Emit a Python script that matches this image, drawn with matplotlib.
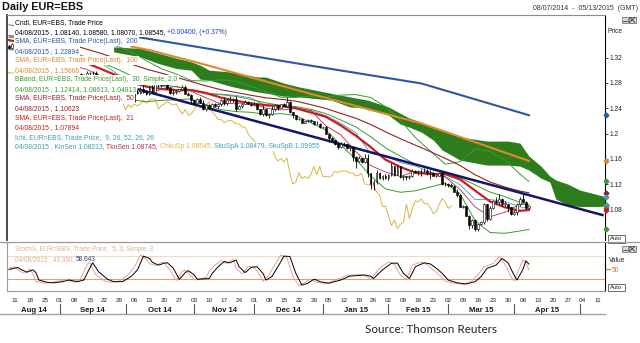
import matplotlib
matplotlib.use("Agg")
import matplotlib.pyplot as plt
import matplotlib.transforms as mtransforms
from matplotlib.lines import Line2D
from matplotlib.patches import Rectangle
import numpy as np
import pandas as pd

plt.rcParams["font.family"] = ["Liberation Sans", "DejaVu Sans"]

W, H = 640, 343


def fx(px):
    return px / W


def fy(py):
    return 1 - py / H


# trading-day calendar, index 0 = 7 Aug 2014; runs on past the last bar for the cloud
days = pd.bdate_range("2014-08-07", "2015-05-13")

# ---- daily EUR=EBS bars (open = previous close) ----
open_first = 1.3390
open_last = 1.08140
close = [
    1.3360, 1.3410,
    1.3375, 1.3365, 1.3365, 1.3360, 1.3400,
    1.3365, 1.3315, 1.3265, 1.3280, 1.3240,
    1.3195, 1.3170, 1.3190, 1.3180, 1.3130,
    1.3130, 1.3130, 1.3150, 1.2945, 1.2950,
    1.2890, 1.2945, 1.2920, 1.2925, 1.2965,
    1.2955, 1.2960, 1.2860, 1.2920, 1.2830,
    1.2850, 1.2850, 1.2770, 1.2745, 1.2685,
    1.2685, 1.2630, 1.2620, 1.2670, 1.2520,
    1.2660, 1.2645, 1.2710, 1.2650, 1.2630,
    1.2735, 1.2650, 1.2815, 1.2810, 1.2760,
    1.2800, 1.2715, 1.2645, 1.2650, 1.2670,
    1.2700, 1.2735, 1.2630, 1.2610, 1.2525,
    1.2480, 1.2545, 1.2490, 1.2380, 1.2455,
    1.2410, 1.2470, 1.2435, 1.2470, 1.2525,
    1.2480, 1.2535, 1.2545, 1.2545, 1.2390,
    1.2440, 1.2470, 1.2505, 1.2470, 1.2450,
    1.2470, 1.2380, 1.2310, 1.2380, 1.2290,
    1.2310, 1.2380, 1.2450, 1.2410, 1.2465,
    1.2440, 1.2505, 1.2340, 1.2290, 1.2225,
    1.2225, 1.2170, 1.2195, 1.2210, 1.2190,
    1.2150, 1.2155, 1.2100, 1.2100, 1.2000,
    1.1935, 1.1890, 1.1835, 1.1790, 1.1840,
    1.1830, 1.1775, 1.1780, 1.1630, 1.1565,
    1.1605, 1.1550, 1.1610, 1.1370, 1.1200,
    1.1235, 1.1380, 1.1290, 1.1320, 1.1290,
    1.1345, 1.1480, 1.1345, 1.1480, 1.1315,
    1.1320, 1.1310, 1.1330, 1.1400, 1.1385,
    1.1400, 1.1410, 1.1405, 1.1375, 1.1380,
    1.1330, 1.1335, 1.1370, 1.1200, 1.1195,
    1.1180, 1.1175, 1.1075, 1.1030, 1.0845,
    1.0850, 1.0700, 1.0545, 1.0630, 1.0495,
    1.0565, 1.0595, 1.0880, 1.0655, 1.0820,
    1.0935, 1.0920, 1.0965, 1.0890, 1.0890,
    1.0830, 1.0730, 1.0760, 1.0885, 1.0970,
    1.0920, 1.08145, 1.08545,
]
high = [
    1.3400, 1.3430,
    1.3420, 1.3400, 1.3390, 1.3395, 1.3445,
    1.3410, 1.3385, 1.3335, 1.3310, 1.3300,
    1.3250, 1.3205, 1.3200, 1.3210, 1.3200,
    1.3145, 1.3140, 1.3170, 1.3170, 1.2995,
    1.2960, 1.2955, 1.2950, 1.2945, 1.2990,
    1.2980, 1.2990, 1.2995, 1.2925, 1.2935,
    1.2880, 1.2865, 1.2860, 1.2785, 1.2755,
    1.2705, 1.2695, 1.2640, 1.2705, 1.2680,
    1.2665, 1.2685, 1.2730, 1.2790, 1.2680,
    1.2745, 1.2760, 1.2885, 1.2845, 1.2815,
    1.2810, 1.2845, 1.2735, 1.2685, 1.2690,
    1.2710, 1.2765, 1.2760, 1.2650, 1.2630,
    1.2535, 1.2560, 1.2570, 1.2535, 1.2470,
    1.2465, 1.2490, 1.2480, 1.2490, 1.2545,
    1.2580, 1.2545, 1.2600, 1.2555, 1.2595,
    1.2455, 1.2490, 1.2530, 1.2510, 1.2500,
    1.2500, 1.2475, 1.2390, 1.2455, 1.2385,
    1.2325, 1.2440, 1.2465, 1.2455, 1.2470,
    1.2480, 1.2570, 1.2510, 1.2345, 1.2300,
    1.2250, 1.2240, 1.2205, 1.2225, 1.2230,
    1.2205, 1.2195, 1.2170, 1.2110, 1.2115,
    1.2010, 1.1945, 1.1895, 1.1845, 1.1865,
    1.1870, 1.1835, 1.1815, 1.1805, 1.1640,
    1.1640, 1.1615, 1.1680, 1.1680, 1.1375,
    1.1270, 1.1420, 1.1385, 1.1350, 1.1365,
    1.1365, 1.1535, 1.1490, 1.1500, 1.1490,
    1.1345, 1.1335, 1.1345, 1.1445, 1.1430,
    1.1415, 1.1435, 1.1450, 1.1440, 1.1430,
    1.1385, 1.1350, 1.1385, 1.1385, 1.1240,
    1.1215, 1.1215, 1.1185, 1.1115, 1.1050,
    1.0870, 1.0855, 1.0705, 1.0650, 1.0645,
    1.0570, 1.0620, 1.0905, 1.0885, 1.0860,
    1.0950, 1.0990, 1.1050, 1.0975, 1.0935,
    1.0890, 1.0840, 1.0790, 1.0900, 1.1000,
    1.1035, 1.0930, 1.08580,
]
low = [
    1.3335, 1.3335,
    1.3365, 1.3350, 1.3335, 1.3340, 1.3350,
    1.3350, 1.3300, 1.3250, 1.3240, 1.3220,
    1.3180, 1.3150, 1.3150, 1.3160, 1.3125,
    1.3120, 1.3110, 1.3120, 1.2920, 1.2920,
    1.2860, 1.2860, 1.2900, 1.2905, 1.2920,
    1.2920, 1.2925, 1.2835, 1.2830, 1.2815,
    1.2815, 1.2820, 1.2765, 1.2730, 1.2670,
    1.2660, 1.2625, 1.2570, 1.2605, 1.2500,
    1.2505, 1.2620, 1.2625, 1.2640, 1.2605,
    1.2615, 1.2640, 1.2620, 1.2735, 1.2740,
    1.2745, 1.2705, 1.2630, 1.2615, 1.2630,
    1.2660, 1.2690, 1.2620, 1.2600, 1.2490,
    1.2445, 1.2465, 1.2475, 1.2370, 1.2360,
    1.2400, 1.2395, 1.2415, 1.2405, 1.2440,
    1.2445, 1.2450, 1.2500, 1.2505, 1.2360,
    1.2385, 1.2410, 1.2460, 1.2460, 1.2435,
    1.2430, 1.2370, 1.2295, 1.2280, 1.2270,
    1.2245, 1.2300, 1.2355, 1.2370, 1.2400,
    1.2430, 1.2425, 1.2320, 1.2245, 1.2220,
    1.2210, 1.2165, 1.2160, 1.2185, 1.2175,
    1.2135, 1.2145, 1.2095, 1.2085, 1.1995,
    1.1860, 1.1865, 1.1820, 1.1755, 1.1775,
    1.1795, 1.1750, 1.1730, 1.1565, 1.1460,
    1.1550, 1.1530, 1.1540, 1.1315, 1.1115,
    1.1100, 1.1205, 1.1275, 1.1260, 1.1275,
    1.1270, 1.1335, 1.1330, 1.1340, 1.1300,
    1.1270, 1.1270, 1.1280, 1.1310, 1.1370,
    1.1350, 1.1330, 1.1390, 1.1340, 1.1275,
    1.1320, 1.1305, 1.1330, 1.1180, 1.1175,
    1.1160, 1.1155, 1.1070, 1.0990, 1.0840,
    1.0820, 1.0690, 1.0495, 1.0505, 1.0460,
    1.0460, 1.0555, 1.0565, 1.0615, 1.0635,
    1.0810, 1.0890, 1.0885, 1.0860, 1.0850,
    1.0765, 1.0710, 1.0715, 1.0715, 1.0860,
    1.0910, 1.0800, 1.08070,
]

# ---- overlay studies, sampled on these bar indices ----
ind_x = [0, 6, 11, 16, 21, 26, 31, 36, 41, 46, 51, 56, 61, 66, 71, 76, 81, 86,
         91, 96, 101, 106, 111, 116, 121, 126, 131, 136, 141, 146, 151, 156,
         161, 166, 171, 174]
sma21 = [1.3476, 1.3425, 1.3373, 1.3307, 1.3225, 1.3114, 1.3017, 1.2919, 1.2810,
         1.2742, 1.2705, 1.2684, 1.2687, 1.2640, 1.2567, 1.2518, 1.2475, 1.2449,
         1.2434, 1.2399, 1.2332, 1.2266, 1.2129, 1.1968, 1.1786, 1.1586, 1.1470,
         1.1378, 1.1360, 1.1356, 1.1273, 1.1096, 1.0924, 1.0832, 1.0776, 1.07894]
sma50 = [1.3547, 1.3524, 1.3500, 1.3460, 1.3406, 1.3334, 1.3264, 1.3184, 1.3096,
         1.3019, 1.2955, 1.2888, 1.2822, 1.2752, 1.2692, 1.2649, 1.2605, 1.2564,
         1.2542, 1.2512, 1.2456, 1.2397, 1.2318, 1.2243, 1.2144, 1.2027, 1.1917,
         1.1815, 1.1714, 1.1607, 1.1493, 1.1347, 1.1232, 1.1152, 1.1089, 1.10623]
bb_mid = [1.3526, 1.3481, 1.3429, 1.3361, 1.3288, 1.3203, 1.3122, 1.3024, 1.2912,
          1.2827, 1.2775, 1.2737, 1.2692, 1.2641, 1.2614, 1.2587, 1.2539, 1.2484,
          1.2445, 1.2426, 1.2382, 1.2316, 1.2214, 1.2106, 1.1950, 1.1774, 1.1640,
          1.1514, 1.1437, 1.1365, 1.1298, 1.1188, 1.1073, 1.1001, 1.0908, 1.08613]
bb_up = [1.3720, 1.3671, 1.3625, 1.3581, 1.3578, 1.3553, 1.3482, 1.3384, 1.3292,
         1.3151, 1.3025, 1.2941, 1.2836, 1.2831, 1.2850, 1.2827, 1.2743, 1.2664,
         1.2575, 1.2570, 1.2592, 1.2576, 1.2608, 1.2616, 1.2570, 1.2424, 1.2210,
         1.1934, 1.1721, 1.1515, 1.1554, 1.1758, 1.1713, 1.1581, 1.1358, 1.12414]
bb_lo = [1.3332, 1.3291, 1.3233, 1.3141, 1.2998, 1.2853, 1.2762, 1.2664, 1.2532,
         1.2503, 1.2525, 1.2533, 1.2548, 1.2451, 1.2378, 1.2347, 1.2335, 1.2304,
         1.2315, 1.2282, 1.2172, 1.2056, 1.1820, 1.1596, 1.1330, 1.1124, 1.1070,
         1.1094, 1.1153, 1.1215, 1.1042, 1.0618, 1.0433, 1.0421, 1.0458, 1.04813]
tenkan = [1.3385, 1.3390, 1.3333, 1.3268, 1.3073, 1.3015, 1.2905, 1.2833, 1.2690,
          1.2645, 1.2695, 1.2750, 1.2668, 1.2563, 1.2465, 1.2480, 1.2480, 1.2400,
          1.2373, 1.2395, 1.2365, 1.2123, 1.1980, 1.1718, 1.1493, 1.1390, 1.1318,
          1.1403, 1.1360, 1.1313, 1.1113, 1.0838, 1.0683, 1.0755, 1.0880, 1.08745]
kijun = [1.3480, 1.3440, 1.3335, 1.3298, 1.3183, 1.3153, 1.3113, 1.2948, 1.2835,
         1.2748, 1.2748, 1.2693, 1.2688, 1.2623, 1.2623, 1.2603, 1.2563, 1.2435,
         1.2423, 1.2410, 1.2365, 1.2283, 1.2163, 1.2015, 1.1683, 1.1653, 1.1538,
         1.1485, 1.1390, 1.1318, 1.1188, 1.0955, 1.0955, 1.0923, 1.0838, 1.08213]

sma100_x = [41, 47, 64, 100, 138, 174]
sma100 = [1.3375, 1.3320, 1.3110, 1.2640, 1.2160, 1.15666]
sma200_x = [42, 100, 138, 174]
sma200 = [1.3535, 1.3081, 1.2792, 1.22894]

# Ichimoku cloud (spans plotted 26 bars ahead)
cloud_x = [35, 44, 50, 56, 61, 64, 67, 75, 83, 86, 92, 97, 108, 114, 120, 127,
           131, 134, 138, 142, 145, 151, 160, 167, 171, 174, 178, 181, 183, 187,
           191, 200]
senkou_b = [1.3371, 1.3345, 1.3271, 1.3192, 1.3134, 1.3081, 1.3002, 1.2971, 1.2896,
            1.2892, 1.2797, 1.2738, 1.2634, 1.2580, 1.2528, 1.2422, 1.2318, 1.2243,
            1.2180, 1.2085, 1.2038, 1.1943, 1.1880, 1.1880, 1.1848, 1.1643, 1.1485,
            1.1327, 1.1264, 1.1200, 1.1106, 1.09955]
senkou_a = [1.3292, 1.3213, 1.3108, 1.3029, 1.3002, 1.2860, 1.2844, 1.2738, 1.2659,
            1.2639, 1.2591, 1.2580, 1.2528, 1.2422, 1.2402, 1.2291, 1.2149, 1.2101,
            1.2022, 1.1896, 1.1738, 1.1579, 1.1500, 1.1500, 1.1484, 1.1421, 1.1295,
            1.1232, 1.0963, 1.0868, 1.0844, 1.08479]
chikou_shift = 26

# hand-drawn resistance line
trend_x = [43, 199]
trend_y = [1.2702, 1.0705]

# ---- slow stochastics (5, 3, 3) ----
stoch_fast_x = [0, 2, 3, 5, 7, 8, 9, 12, 14, 17, 19, 22, 24, 26, 27, 29, 32, 34, 37,
                40, 42, 44, 46, 47, 49, 51, 52, 54, 56, 58, 59, 61, 62, 66, 67, 69,
                71, 73, 75, 76, 78, 80, 82, 84, 85, 87, 90, 91, 93, 95, 97, 99, 101,
                102, 103, 106, 110, 113, 118, 120, 121, 124, 127, 129, 131, 133, 135,
                138, 140, 142, 144, 146, 149, 152, 155, 157, 159, 162, 164, 166, 168,
                169, 171, 172, 173, 174]
stoch_fast = [48, 52, 44, 35, 46, 34, 15, 10, 12, 16, 20, 12, 22, 55, 64, 32, 16, 12,
              16, 32, 52, 82, 70, 60, 55, 63, 62, 42, 17, 40, 44, 28, 18, 25, 40, 57,
              67, 60, 72, 48, 33, 53, 52, 30, 15, 32, 70, 82, 75, 28, 4, 12, 21, 16,
              12, 9, 20, 30, 32, 26, 20, 48, 64, 58, 30, 20, 56, 64, 57, 44, 31, 15,
              10, 7, 16, 32, 52, 60, 78, 58, 26, 16, 52, 70, 62, 43.930]
stoch_slow_x = [0, 3, 4, 6, 8, 9, 10, 13, 15, 18, 20, 23, 25, 27, 28, 30, 33, 35, 38,
                41, 43, 45, 47, 48, 50, 52, 53, 55, 57, 59, 60, 62, 63, 67, 68, 70,
                72, 74, 76, 77, 79, 81, 83, 85, 86, 88, 91, 92, 94, 96, 98, 100, 102,
                103, 104, 107, 111, 114, 119, 121, 122, 125, 128, 130, 132, 134, 136,
                139, 141, 143, 145, 147, 150, 153, 156, 158, 160, 163, 165, 167, 169,
                170, 172, 173, 174]
stoch_slow = [45, 50, 45, 38, 44, 37, 18, 12, 11, 14, 18, 14, 18, 48, 62, 39, 20, 14,
              14, 28, 44, 79, 73, 63, 56, 61, 62, 48, 20, 37, 42, 31, 20, 22, 35, 52,
              65, 62, 69, 52, 37, 50, 52, 35, 18, 27, 65, 79, 78, 35, 5, 10, 20, 18,
              14, 10, 18, 28, 31, 28, 22, 44, 61, 61, 35, 22, 52, 62, 59, 48, 35, 18,
              11, 8, 14, 27, 48, 56, 73, 62, 31, 18, 45, 67, 58.643]

price_ticks = [1.08, 1.12, 1.16, 1.20, 1.24, 1.28, 1.32]
price_tick_labels = ["1.08", "1.12", "1.16", "1.2", "1.24", "1.28", "1.32"]
month_labels = ["Aug 14", "Sep 14", "Oct 14", "Nov 14", "Dec 14",
                "Jan 15", "Feb 15", "Mar 15", "Apr 15"]

# colours
C_BLUE = "#2b57a6"
C_ORANGE = "#e0882e"
C_GREEN = "#3d9a30"
C_DRED = "#952222"
C_RED = "#cc1d1d"
C_TEAL = "#3f9fb6"
C_TENKAN = "#b0304a"
C_GOLD = "#dcb443"
C_CLOUD = "#2e7d1c"
C_NAVY = "#15166a"
C_TAN = "#d6b48e"

XL = (-0.67, 199.46)

fig = plt.figure(figsize=(W / 100, H / 100), dpi=100)
fig.patch.set_facecolor("white")
ax = fig.add_axes([fx(7), fy(240), fx(605) - fx(7), fy(15) - fy(240)])
ax2 = fig.add_axes([fx(7), fy(291), fx(605) - fx(7), fy(243) - fy(291)])

# --- price panel ---
ax.set_xlim(*XL)
ax.set_ylim(1.0315, 1.3875)
ax.fill_between(cloud_x, senkou_a, senkou_b, color=C_CLOUD, lw=0, zorder=1)

n = len(close)
bars = np.arange(n)
ax.plot(bars - chikou_shift, close, color=C_GOLD, lw=0.7, zorder=2)
ax.plot(ind_x, kijun, color=C_TEAL, lw=0.6, zorder=2)
ax.plot(ind_x, tenkan, color=C_TENKAN, lw=0.6, zorder=2)
for band in (bb_up, bb_mid, bb_lo):
    ax.plot(ind_x, band, color=C_GREEN, lw=0.7, zorder=2)
ax.plot(ind_x, sma50, color=C_DRED, lw=0.8, zorder=3)
ax.plot(sma100_x, sma100, color=C_ORANGE, lw=1.5, zorder=3)
ax.plot(sma200_x, sma200, color=C_BLUE, lw=1.5, zorder=3)
ax.plot(ind_x, sma21, color=C_RED, lw=1.6, zorder=4)
ax.plot(trend_x, trend_y, color=C_NAVY, lw=1.8, zorder=5, solid_capstyle="butt")

c = np.array(close)
o = np.array([open_first] + close[:-1])
o[-1] = open_last
up = c >= o
ax.vlines(bars, low, high, color="black", lw=0.6, zorder=6)
ax.bar(bars, np.maximum(np.abs(c - o), 0.0003), bottom=np.minimum(o, c), width=0.62,
       color=np.where(up, "white", "black"), edgecolor="black", lw=0.4, zorder=7)

ax.yaxis.tick_right()
ax.set_yticks(price_ticks)
ax.set_yticklabels(price_tick_labels)
ax.tick_params(axis="y", direction="out", length=2.2, width=0.6, labelsize=4.8,
               pad=1, colors="#222222")
ax.set_xticks([])
ax.spines["left"].set_color("#3a3a3a")
ax.spines["left"].set_linewidth(1.3)
ax.spines["right"].set_color("black")
ax.spines["right"].set_linewidth(0.8)
ax.spines["top"].set_color("#8c8c8c")
ax.spines["top"].set_linewidth(0.8)
ax.spines["bottom"].set_visible(False)

# last-value markers on the price scale
last_marks = [(sma200[-1], C_BLUE), (sma100[-1], C_ORANGE), (bb_up[-1], C_GREEN),
              (sma50[-1], C_DRED), (senkou_b[-1], C_TEAL), (tenkan[-1], C_TENKAN),
              (bb_mid[-1], C_GREEN), (close[-1], C_GOLD), (senkou_a[-1], C_TEAL),
              (kijun[-1], "#6b7b73"), (sma21[-1], C_RED), (bb_lo[-1], C_GREEN)]
for v, col in last_marks:
    ax.plot([XL[1] + 0.3], [v], marker="D", ms=2.4, color=col, clip_on=False, zorder=9)

# --- stochastics panel ---
ax2.set_xlim(*XL)
ax2.set_ylim(-9.8, 112.3)
ax2.axhline(80, color="#f1dcc2", lw=0.8, zorder=1)
ax2.axhline(20, color="#d9a27a", lw=0.8, zorder=1)
ax2.plot(stoch_fast_x, stoch_fast, color="#eaa190", lw=0.7, zorder=2)
ax2.plot(stoch_slow_x, stoch_slow, color="black", lw=0.7, zorder=3)
ax2.set_xticks([])
ax2.set_yticks([])
ax2.spines["top"].set_visible(False)
ax2.spines["left"].set_color("#9a9a9a")
ax2.spines["bottom"].set_color("#9a9a9a")
ax2.spines["right"].set_color("black")
ax2.spines["right"].set_linewidth(0.8)

# --- date axis under the stochastics ---
bt = mtransforms.blended_transform_factory(ax2.transData, fig.transFigure)
for i, d in enumerate(days):
    if d.weekday() == 0:
        ax2.text(i, fy(301.5), f"{d.day:02d}", transform=bt, ha="center",
                 va="baseline", fontsize=4.6, color="#222222")
starts = [i for i in range(1, len(days)) if days[i].month != days[i - 1].month]
bounds = [XL[0]] + starts
for b in starts:
    fig.add_artist(Line2D([b, b], [fy(304), fy(313)], transform=bt,
                          color="#555555", lw=0.8))
for k, name in enumerate(month_labels):
    ax2.text((bounds[k] + bounds[k + 1]) / 2, fy(311.5), name, transform=bt,
             ha="center", va="baseline", fontsize=5.6, fontweight="bold",
             color="#1a1a1a")
fig.add_artist(Line2D([0, fx(605)], [fy(313.5)] * 2, transform=fig.transFigure,
                      color="#a0a0a0", lw=1.0))
fig.add_artist(Line2D([0, 1], [fy(242)] * 2, transform=fig.transFigure,
                      color="#9a9a9a", lw=0.9))

# --- headers ---
fig.text(fx(2), fy(10.5), "Daily EUR=EBS", fontsize=7.8, fontweight="bold",
         va="baseline", color="#111111")
fig.text(fx(638), fy(9.5), "08/07/2014  -  05/13/2015  (GMT)", fontsize=5,
         ha="right", va="baseline", color="#333333")
fig.text(fx(431), fy(333), "Source: Thomson Reuters", family=["Lato", "DejaVu Sans"],
         fontsize=8.4, ha="center", va="baseline", color="#222222")


def legend_row(x, y, parts, size=4.85, boxed=True):
    # pieces of one legend line, each in its own colour, laid end to end
    rend = fig.canvas.get_renderer()
    space = 0.278 * size * fig.dpi / 72
    for txt, col in parts:
        word = txt.rstrip(" ")
        t = fig.text(fx(x), fy(y), word, color=col, fontsize=size, va="baseline",
                     zorder=5,
                     bbox=dict(facecolor="white", edgecolor="none", pad=0.9)
                     if boxed else None)
        x = t.get_window_extent(renderer=rend).x1 + space * (len(txt) - len(word))


last_day = days[n - 1].strftime("%m/%d/%Y")
chg = close[-1] - close[-2]
rows = [
    [("Cndl, EUR=EBS, Trade Price", "black")],
    [(f"{last_day} , {open_last:.5f}, {high[-1]:.5f}, {low[-1]:.5f}, {close[-1]:.5f}, ",
      "black"),
     (f"{chg:+.5f}, ({100 * chg / close[-2]:+.2f}%)", "#1d3fc4")],
    [("SMA, EUR=EBS, Trade Price(Last),  200", C_BLUE)],
    [(f"{last_day} , {sma200[-1]:.5f}", C_BLUE)],
    [("SMA, EUR=EBS, Trade Price(Last),  100", C_ORANGE)],
    [(f"{last_day} , {sma100[-1]:.5f}", C_ORANGE)],
    [("BBand, EUR=EBS, Trade Price(Last),  30, Simple, 2.0", C_GREEN)],
    [(f"{last_day} , {bb_up[-1]:.5f}, {bb_mid[-1]:.5f}, {bb_lo[-1]:.5f}", C_GREEN)],
    [("SMA, EUR=EBS, Trade Price(Last),  50", C_DRED)],
    [(f"{last_day} , {sma50[-1]:.5f}", C_DRED)],
    [("SMA, EUR=EBS, Trade Price(Last),  21", C_RED)],
    [(f"{last_day} , {sma21[-1]:.5f}", C_RED)],
    [("Ichi, EUR=EBS, Trade Price,  9, 26, 52, 26, 26", C_TEAL)],
    [(f"{last_day} , KinSen {kijun[-1]:.5f}, ", C_TEAL),
     (f"TknSen {tenkan[-1]:.5f}, ", C_TENKAN),
     (f"ChkuSp {close[-1]:.5f}, ", C_GOLD),
     (f"SkuSpA {senkou_a[-1]:.5f}, SkuSpB {senkou_b[-1]:.5f}", C_TEAL)],
]
for r, parts in enumerate(rows):
    legend_row(15, 24 + 9.55 * r, parts)

legend_row(15, 251, [("StochS, EUR=EBS, Trade Price,  5, 3, Simple, 3", C_TAN)],
           size=4.7, boxed=False)
legend_row(15, 260.7, [(f"{last_day} , {stoch_fast[-1]:.3f}, ", C_TAN),
                       (f"{stoch_slow[-1]:.3f}", "#35357f")], size=4.7, boxed=False)

# --- right-hand scale furniture ---
fig.text(fx(608), fy(33), "Price", fontsize=4.8, va="baseline", color="#222222")
fig.text(fx(609), fy(261.5), "Value", fontsize=4.8, va="baseline", color="#222222")
fig.text(fx(611.5), fy(271.5), "50", fontsize=4.8, va="baseline", color="#c87a3c")
fig.add_artist(Line2D([fx(605.5), fx(610)], [fy(269.3)] * 2, transform=fig.transFigure,
                      color="#d08a50", lw=1.0))

for top in (16.5, 245.5):
    fig.add_artist(Rectangle((fx(621.5), fy(top + 6.5)), 6.5 / W, 6.5 / H,
                             transform=fig.transFigure, facecolor="#d9d9d9",
                             edgecolor="#666666", lw=0.5))
    fig.add_artist(Line2D([fx(623), fx(626.5)], [fy(top + 4.2)] * 2,
                          transform=fig.transFigure, color="#444444", lw=0.6))
    fig.add_artist(Rectangle((fx(629), fy(top + 6.5)), 6.5 / W, 6.5 / H,
                             transform=fig.transFigure, facecolor="#d9d9d9",
                             edgecolor="#555555", lw=0.5))
    fig.add_artist(Line2D([fx(629.8), fx(634.7)], [fy(top + 0.8), fy(top + 5.7)],
                          transform=fig.transFigure, color="#333333", lw=0.6))
    fig.add_artist(Line2D([fx(629.8), fx(634.7)], [fy(top + 5.7), fy(top + 0.8)],
                          transform=fig.transFigure, color="#333333", lw=0.6))

for top in (235, 283.5):
    fig.add_artist(Rectangle((fx(608), fy(top + 7.5)), 17 / W, 7.5 / H,
                             transform=fig.transFigure, facecolor="white",
                             edgecolor="#555555", lw=0.6))
    fig.text(fx(616.5), fy(top + 3.75), "Auto", fontsize=4.2, ha="center",
             va="center", color="#222222")

fig.savefig("out.png", dpi=100, facecolor="white")
plt.close(fig)
